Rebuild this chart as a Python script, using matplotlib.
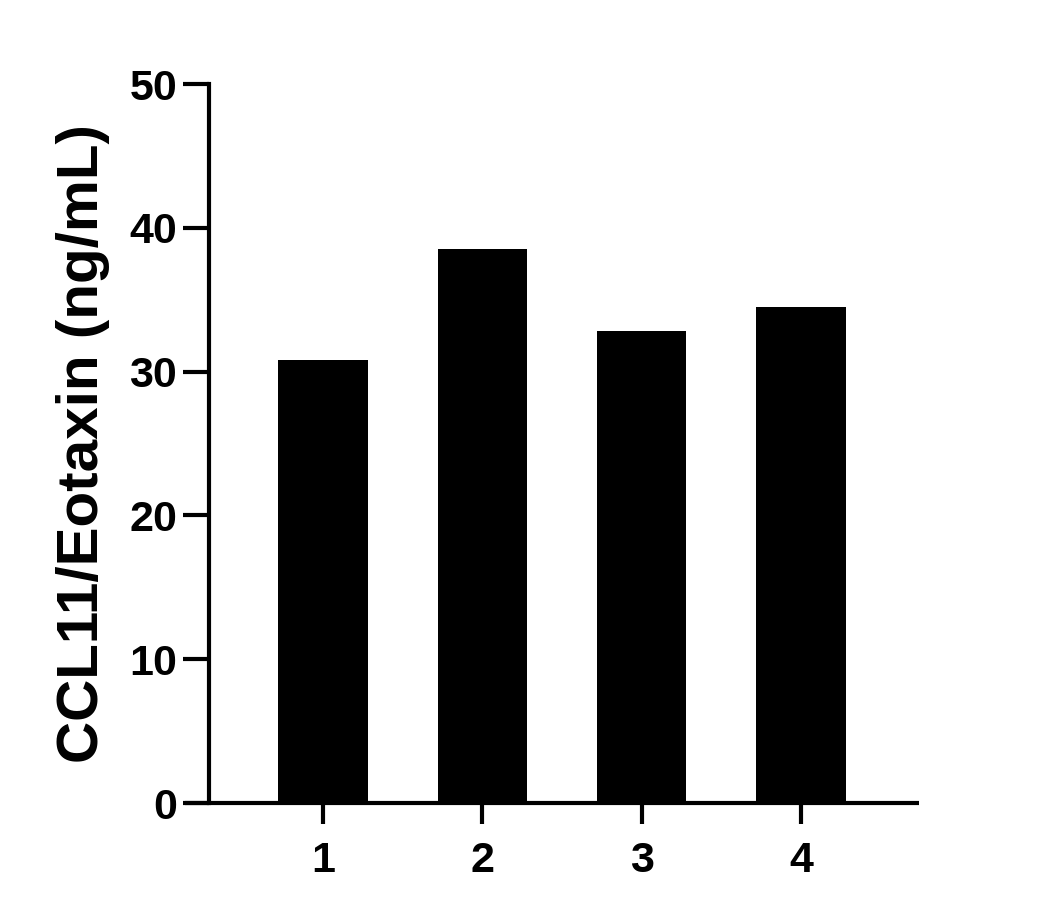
import matplotlib
matplotlib.use('Agg')
import matplotlib.pyplot as plt

plt.rcParams['font.family'] = ['Liberation Sans', 'DejaVu Sans']
plt.rcParams['font.weight'] = 'bold'

# data
groups = [1, 2, 3, 4]
values = [30.8, 38.5, 32.8, 34.5]
yticks = [0, 10, 20, 30, 40, 50]
ylabel = 'CCL11/Eotaxin (ng/mL)'

fig = plt.figure(figsize=(10.5, 9.21), dpi=100)
ax = fig.add_axes([185/1050, 118/921, 734/1050, 719/921])

ax.bar(groups, values, width=0.56, color='black', edgecolor='black', linewidth=0)

ax.set_xlim(0.134, 4.74)
ax.set_ylim(0, 50)
ax.set_xticks(groups)
ax.set_xticklabels([str(g) for g in groups])
ax.set_yticks(yticks)

for s in ['top', 'right']:
    ax.spines[s].set_visible(False)
ax.spines['left'].set_position(('data', 0.2845))
ax.spines['left'].set_linewidth(3)
ax.spines['bottom'].set_linewidth(3)
ax.spines['left'].set_capstyle('projecting')
ax.spines['bottom'].set_capstyle('butt')

ax.tick_params(axis='y', length=19, width=3, labelsize=31, pad=4)
ax.tick_params(axis='x', length=15, width=3, labelsize=31, pad=12)
for lab in ax.get_xticklabels() + ax.get_yticklabels():
    lab.set_fontweight('bold')

ax.set_ylabel(ylabel, fontsize=42, fontweight='bold', labelpad=14)

fig.savefig('out.png', dpi=100)
